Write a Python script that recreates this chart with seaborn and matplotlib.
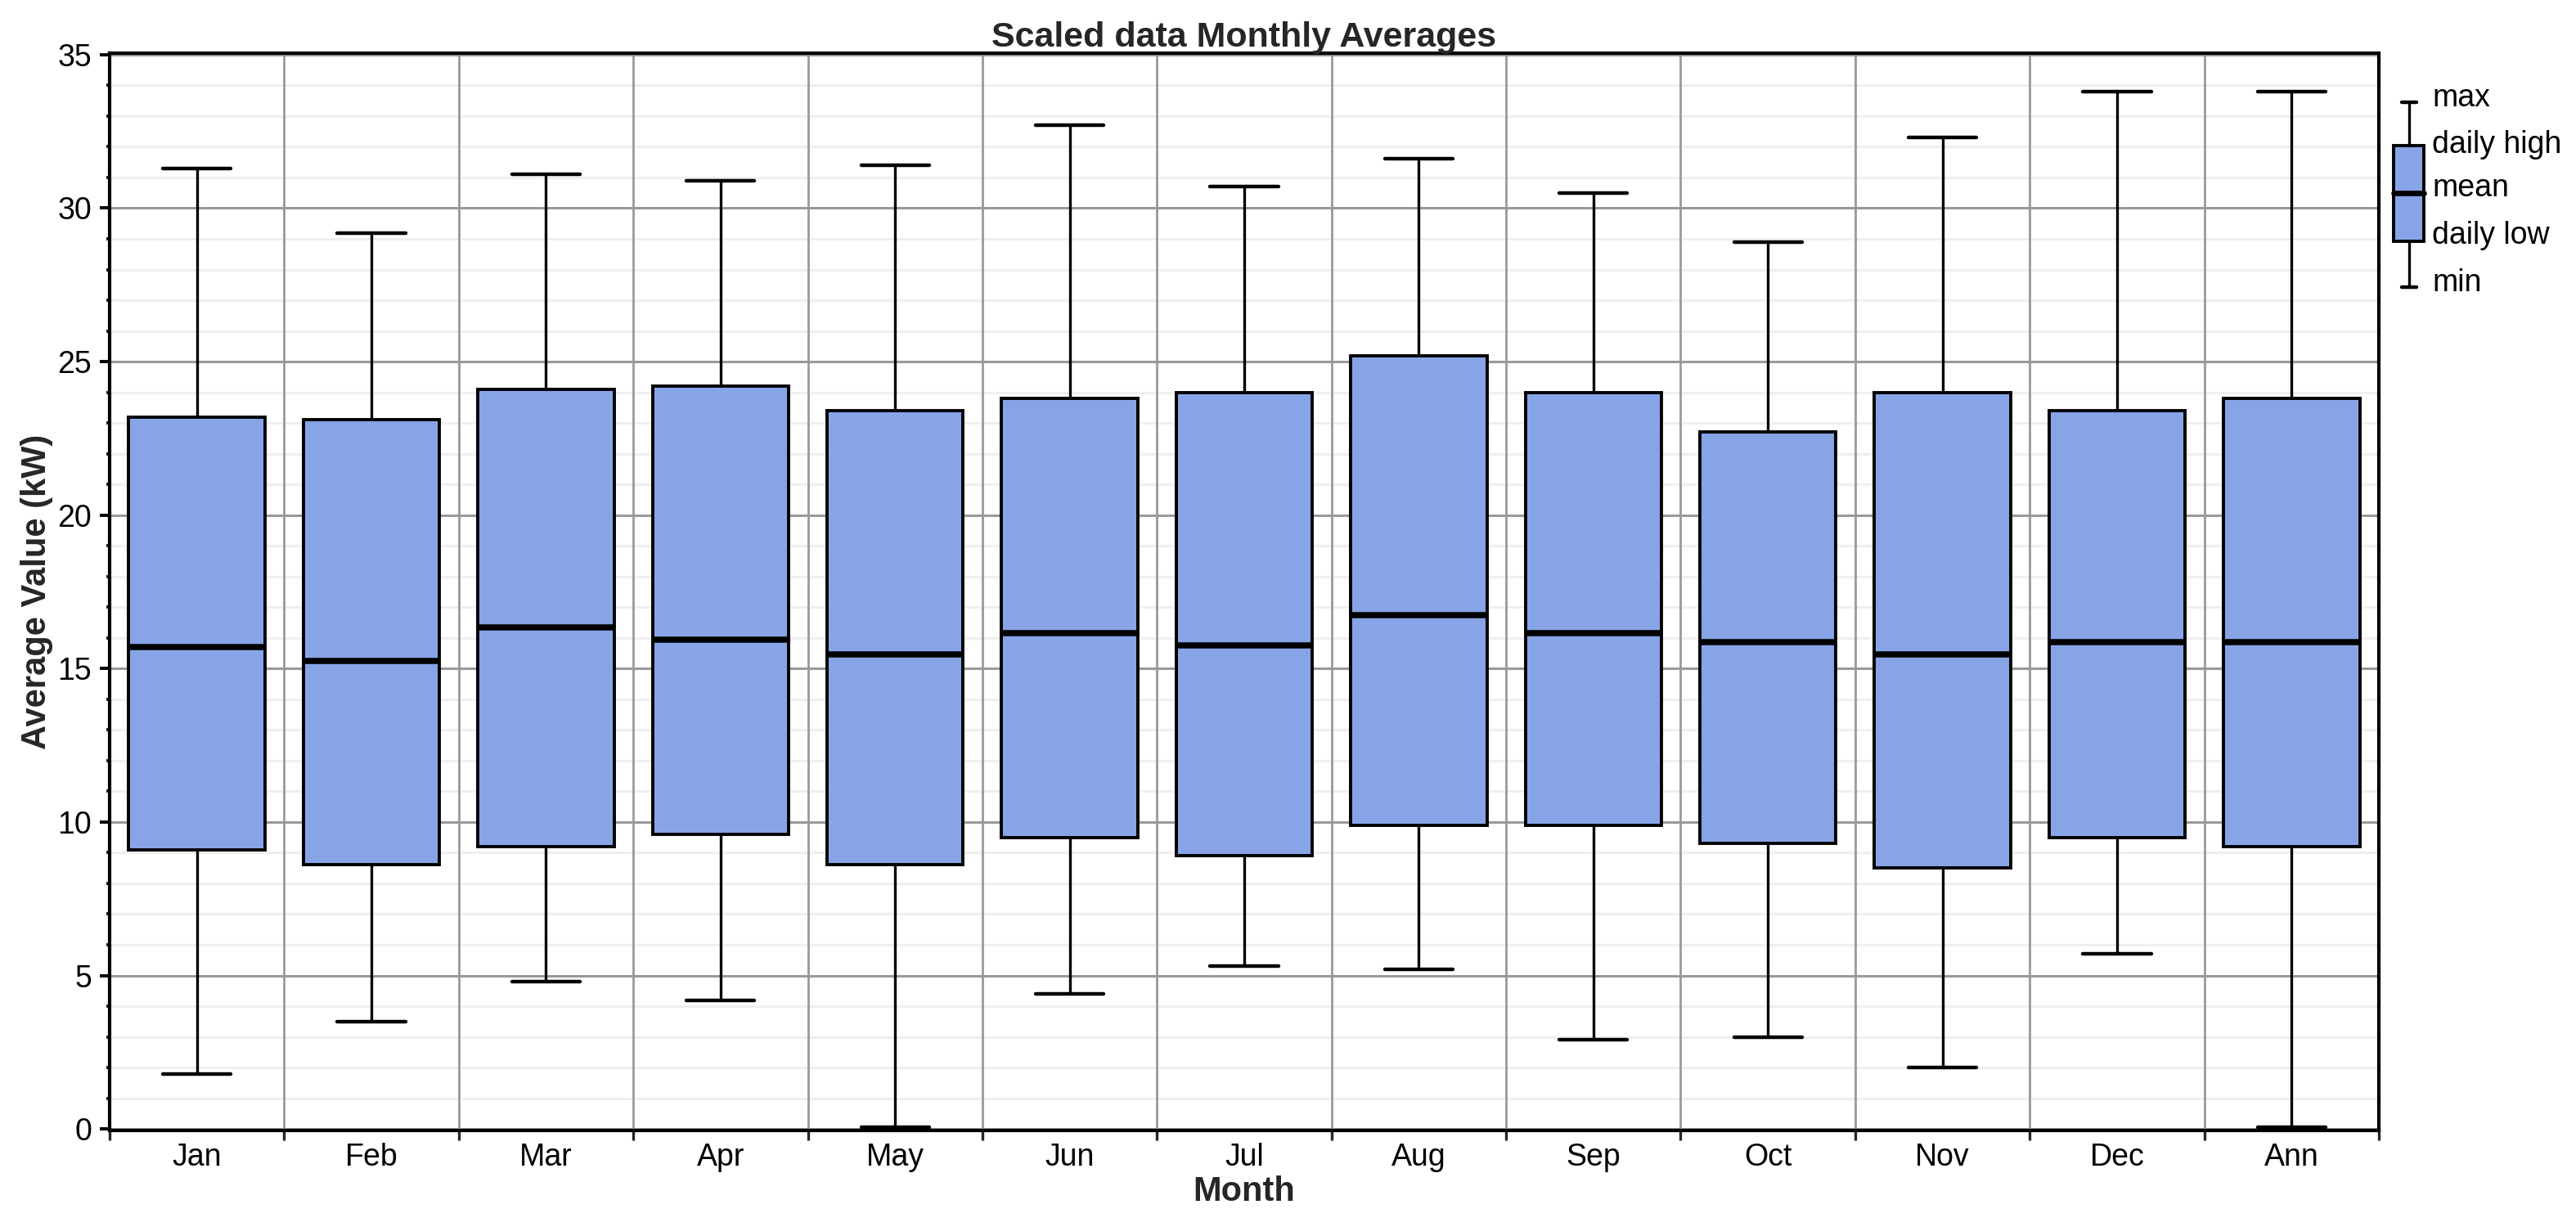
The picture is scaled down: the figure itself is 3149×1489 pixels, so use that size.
import numpy as np
import pandas as pd
import matplotlib
matplotlib.use("Agg")
import matplotlib.pyplot as plt
import seaborn as sns
from matplotlib.ticker import MultipleLocator, FixedLocator
from matplotlib.patches import Rectangle

months = ["Jan", "Feb", "Mar", "Apr", "May", "Jun", "Jul", "Aug", "Sep", "Oct", "Nov", "Dec", "Ann"]
max_vals = [31.3, 29.2, 31.1, 30.9, 31.4, 32.7, 30.7, 31.6, 30.5, 28.9, 32.3, 33.8, 33.8]
high_vals = [23.2, 23.1, 24.1, 24.2, 23.4, 23.8, 24.0, 25.2, 24.0, 22.7, 24.0, 23.4, 23.8]
mean_vals = [15.7, 15.25, 16.35, 15.95, 15.45, 16.15, 15.75, 16.75, 16.15, 15.85, 15.45, 15.85, 15.85]
low_vals = [9.1, 8.6, 9.2, 9.6, 8.6, 9.5, 8.9, 9.9, 9.9, 9.3, 8.5, 9.5, 9.2]
min_vals = [1.8, 3.5, 4.8, 4.2, 0.05, 4.4, 5.3, 5.2, 2.9, 3.0, 2.0, 5.7, 0.05]

legend_labels = ["max", "daily high", "mean", "daily low", "min"]

# Long table: five values per month so that quartiles = daily low / daily high,
# median = mean, 0/100 percentiles = min / max.
rows = []
for m, a, b, c, d, e in zip(months, min_vals, low_vals, mean_vals, high_vals, max_vals):
    for v in (a, b, c, d, e):
        rows.append({"Month": m, "Value": v})
df = pd.DataFrame(rows)

sns.set_style("white")
plt.rcParams["font.family"] = ["Liberation Sans", "DejaVu Sans"]

W, H, DPI = 3149, 1489, 200
fig = plt.figure(figsize=(W / DPI, H / DPI), dpi=DPI)
ax = fig.add_axes([134 / W, 1 - 1382 / H, 2774 / W, 1317 / H])

BOX_COLOR = "#87A5E6"
sns.boxplot(
    data=df, x="Month", y="Value", order=months, whis=(0, 100),
    width=0.78, color=BOX_COLOR, saturation=1, linecolor="black",
    showfliers=False, ax=ax,
    boxprops=dict(linewidth=1.4, edgecolor="black"),
    whiskerprops=dict(linewidth=1.2, color="black"),
    capprops=dict(linewidth=1.6, color="black"),
    medianprops=dict(linewidth=2.7, color="black"),
)

ax.set_xlim(-0.5, len(months) - 0.5)
ax.set_ylim(-0.05, 35.05)

# y ticks / grid
ax.yaxis.set_major_locator(MultipleLocator(5))
ax.yaxis.set_minor_locator(MultipleLocator(1))
ax.tick_params(axis="y", which="major", length=4.3, width=1.4, direction="out",
               pad=3.6, labelsize=13.5, left=True, colors="black")
ax.tick_params(axis="y", which="minor", length=1.6, width=1.4, direction="out", left=True)
ax.yaxis.grid(True, which="major", color="#9a9a9a", linewidth=1.1)
ax.yaxis.grid(True, which="minor", color="#efefef", linewidth=1.1)

# x ticks at boundaries, labels at centers
ax.xaxis.set_minor_locator(FixedLocator(np.arange(-0.5, len(months), 1.0)))
ax.tick_params(axis="x", which="major", length=0, pad=5.4, labelsize=13.5, colors="black")
ax.tick_params(axis="x", which="minor", length=4.3, width=1.2, direction="out", bottom=True)
ax.xaxis.grid(True, which="minor", color="#999999", linewidth=1.0)
ax.xaxis.grid(False, which="major")
ax.set_axisbelow(True)
# vertical grid drawn over the light horizontal minor grid
ax.yaxis.set_zorder(0.4)
ax.xaxis.set_zorder(0.45)

for s in ax.spines.values():
    s.set_visible(True)
    s.set_color("black")
    s.set_linewidth(1.5)
    s.set_zorder(3)

ax.set_title("Scaled data Monthly Averages", fontsize=15.5, fontweight="bold", pad=3)
ax.set_xlabel("Month", fontsize=15, fontweight="bold")
ax.set_ylabel("Average Value (kW)", fontsize=15, fontweight="bold")
ax.xaxis.set_label_coords(0.5, -0.057)
ax.xaxis.label.set_va("center")
ax.yaxis.set_label_coords(-0.032, 0.5)
ax.yaxis.label.set_va("center")

# Legend glyph (schematic) in pixel coordinates
lg = fig.add_axes([2900 / W, 1 - 400 / H, 249 / W, 360 / H])
lg.set_xlim(2900, 3149)
lg.set_ylim(400, 40)
lg.axis("off")
cx = 2945
lg.plot([cx, cx], [125, 178], color="black", lw=1.2)
lg.plot([cx, cx], [295, 351], color="black", lw=1.2)
lg.plot([2936, 2954], [125, 125], color="black", lw=1.6)
lg.plot([2936, 2954], [351, 351], color="black", lw=1.6)
lg.add_patch(Rectangle((2926, 178), 37, 117, facecolor=BOX_COLOR, edgecolor="black", lw=1.4))
lg.plot([2926, 2963], [236, 236], color="black", lw=2.4)
for lab, yb in zip(legend_labels, [130, 187, 240, 298, 356]):
    lg.text(2973, yb, lab, fontsize=13.5, va="baseline", ha="left", color="black")

fig.savefig("out.png", dpi=DPI, facecolor="white")
